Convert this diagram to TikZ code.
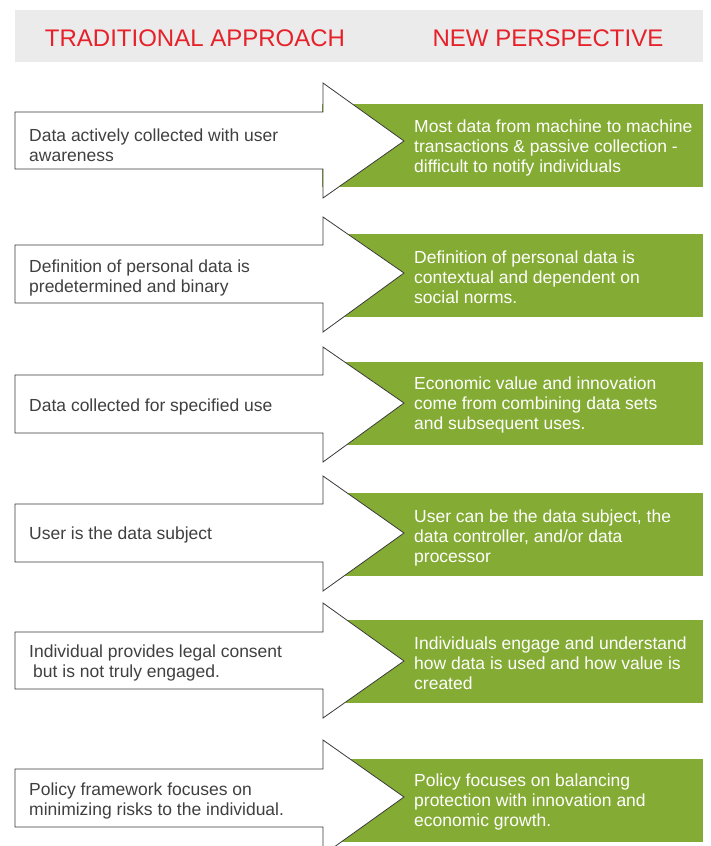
\documentclass[tikz,border=0pt]{standalone}
\usepackage{fontspec}
\setmainfont{Liberation Sans}
\definecolor{headgray}{HTML}{EBEBEB}
\definecolor{headred}{HTML}{E62129}
\definecolor{leafgreen}{HTML}{84AB33}
\definecolor{inkgray}{HTML}{404040}
\definecolor{outlinegray}{HTML}{3A3A3A}

\begin{document}
\begin{tikzpicture}[x=1pt,y=-1pt,
  headtext/.style={text=headred, font=\fontsize{24}{28}\selectfont, inner sep=0pt},
  oldtext/.style={anchor=west, align=left, text=inkgray, font=\fontsize{17.5}{20}\selectfont, inner sep=0pt, yshift=-1.5pt},
  newtext/.style={anchor=west, align=left, text=white, font=\fontsize{17.5}{20}\selectfont, inner sep=0pt, yshift=-1.5pt},
  arrowbody/.style={draw=outlinegray, line width=0.8pt, fill=white, line join=miter},
  greenband/.style={fill=leafgreen}]
\useasboundingbox (0,0) rectangle (710,846);
\clip (0,0) rectangle (710,846);

% column headings
\fill[headgray] (15,10) rectangle (703,62);
\node[headtext] (trad) at (195,38.5) {TRADITIONAL APPROACH};
\node[headtext] (new) at (548,38.5) {NEW PERSPECTIVE};

% row 1
\fill[greenband] (322,104) rectangle (703,187);
\draw[arrowbody] (15,112) -- (323,112) -- (323,83) -- (404,141) -- (323,198) -- (323,169) -- (15,169) -- cycle;
\node[oldtext] (old1) at (29,144) {Data actively collected with user\\awareness};
\node[newtext] (new1) at (414,146) {Most data from machine to machine\\transactions \& passive collection -\\difficult to notify individuals};

% row 2
\fill[greenband] (323,234) rectangle (703,317);
\draw[arrowbody] (15,245) -- (323,245) -- (323,217) -- (404,273) -- (323,332) -- (323,303) -- (15,303) -- cycle;
\node[oldtext] (old2) at (29,276) {Definition of personal data is\\predetermined and binary};
\node[newtext] (new2) at (414,276) {Definition of personal data is\\contextual and dependent on\\social norms.};

% row 3
\fill[greenband] (323,362) rectangle (703,445);
\draw[arrowbody] (15,375) -- (323,375) -- (323,347) -- (404,403) -- (323,462) -- (323,433) -- (15,433) -- cycle;
\node[oldtext] (old3) at (29,405) {Data collected for specified use};
\node[newtext] (new3) at (414,403) {Economic value and innovation\\come from combining data sets\\and subsequent uses.};

% row 4
\fill[greenband] (323,493) rectangle (703,576);
\draw[arrowbody] (15,504) -- (323,504) -- (323,476) -- (404,533) -- (323,591) -- (323,562) -- (15,562) -- cycle;
\node[oldtext] (old4) at (29,533) {User is the data subject};
\node[newtext] (new4) at (414,536) {User can be the data subject, the\\data controller, and/or data\\processor};

% row 5
\fill[greenband] (323,620) rectangle (703,703);
\draw[arrowbody] (15,632) -- (323,632) -- (323,603) -- (404,661) -- (323,718) -- (323,689) -- (15,689) -- cycle;
\node[oldtext] (old5) at (29,661.5) {Individual provides legal consent\\\hspace*{4pt}but is not truly engaged.};
\node[newtext] (new5) at (414,662) {Individuals engage and understand\\how data is used and how value is\\created};

% row 6
\fill[greenband] (323,759) rectangle (703,842);
\draw[arrowbody] (15,769) -- (323,769) -- (323,740) -- (404,797) -- (323,855) -- (323,827) -- (15,827) -- cycle;
\node[oldtext] (old6) at (29,799) {Policy framework focuses on\\minimizing risks to the individual.};
\node[newtext] (new6) at (414,800) {Policy focuses on balancing\\protection with innovation and\\economic growth.};
\end{tikzpicture}
\end{document}
